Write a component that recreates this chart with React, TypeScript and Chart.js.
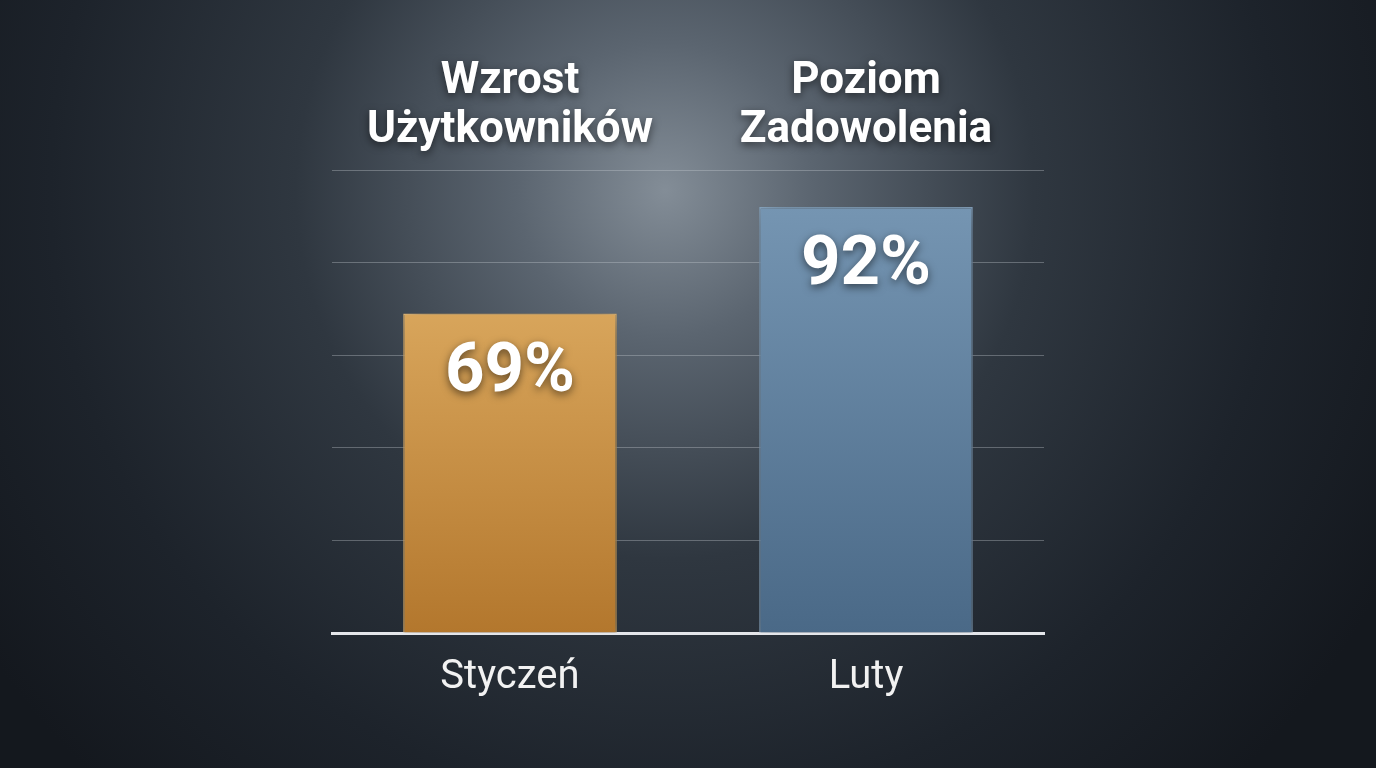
import { useEffect, useRef } from "react";
import { Chart, registerables, ChartConfiguration, Plugin } from "chart.js";

Chart.register(...registerables);

// chart data
const months = ["Styczeń", "Luty"];
const values = [69, 92];
const barTitles = [
  ["Wzrost", "Użytkowników"],
  ["Poziom", "Zadowolenia"],
];
const yTicks = [0, 20, 40, 60, 80, 100];

// colours for each bar: [top, bottom, border]
const barColors = [
  ["#d8a55b", "#b3772d", "#e2b877"],
  ["#7595b2", "#4a6987", "#8aa8c3"],
];

const FONT = "Roboto, 'Noto Sans', sans-serif";

// dark backdrop with a soft light above the chart
const backgroundPlugin: Plugin<"bar"> = {
  id: "backdrop",
  beforeDraw(chart) {
    const { ctx, width, height } = chart;
    ctx.save();
    ctx.fillStyle = "#161b22";
    ctx.fillRect(0, 0, width, height);
    const g = ctx.createRadialGradient(665, 190, 0, 665, 190, 820);
    g.addColorStop(0, "#838d97");
    g.addColorStop(0.18, "#5b6570");
    g.addColorStop(0.45, "#2f3740");
    g.addColorStop(0.75, "#1d232b");
    g.addColorStop(1, "#14181e");
    ctx.fillStyle = g;
    ctx.fillRect(0, 0, width, height);
    ctx.restore();
  },
};

// shadow under the bars
const barShadowPlugin: Plugin<"bar"> = {
  id: "barShadow",
  beforeDatasetDraw(chart) {
    const { ctx } = chart;
    ctx.save();
    ctx.shadowColor = "rgba(0,0,0,0.45)";
    ctx.shadowBlur = 22;
    ctx.shadowOffsetX = 4;
    ctx.shadowOffsetY = 4;
  },
  afterDatasetDraw(chart) {
    chart.ctx.restore();
  },
};

// titles above the chart and the values inside the bars
const labelsPlugin: Plugin<"bar"> = {
  id: "barLabels",
  afterDatasetsDraw(chart) {
    const { ctx } = chart;
    const meta = chart.getDatasetMeta(0);
    ctx.save();
    ctx.textAlign = "center";
    ctx.textBaseline = "middle";
    ctx.fillStyle = "#ffffff";
    ctx.shadowColor = "rgba(0,0,0,0.55)";
    ctx.shadowBlur = 8;
    ctx.shadowOffsetY = 3;
    meta.data.forEach((bar, i) => {
      const x = bar.x;
      ctx.font = `bold 44px ${FONT}`;
      barTitles[i].forEach((line, j) => {
        ctx.fillText(line, x, 82 + j * 49);
      });
      ctx.font = `bold 69px ${FONT}`;
      ctx.fillText(`${values[i]}%`, x, bar.y + 60);
    });
    ctx.restore();
  },
};

const App: React.FC = () => {
  const chartRef = useRef<HTMLCanvasElement | null>(null);

  useEffect(() => {
    document.body.style.margin = "0";
    if (!chartRef.current) return;
    const ctx = chartRef.current.getContext("2d");
    if (!ctx) return;

    const config: ChartConfiguration<"bar"> = {
      type: "bar",
      data: {
        labels: months,
        datasets: [
          {
            data: values,
            backgroundColor: (c) => {
              const chart = c.chart;
              const area = chart.chartArea;
              const cols = barColors[c.dataIndex % barColors.length];
              if (!area || !chart.scales.y) return cols[0];
              const top = chart.scales.y.getPixelForValue(values[c.dataIndex]);
              const g = chart.ctx.createLinearGradient(0, top, 0, area.bottom);
              g.addColorStop(0, cols[0]);
              g.addColorStop(1, cols[1]);
              return g;
            },
            borderColor: (c) => barColors[c.dataIndex % barColors.length][2],
            borderWidth: 1.5,
            borderSkipped: "bottom",
            barPercentage: 1,
            categoryPercentage: 0.6,
          },
        ],
      },
      options: {
        animation: false,
        responsive: true,
        maintainAspectRatio: false,
        layout: {
          padding: { left: 332, right: 332, top: 170, bottom: 45 },
        },
        plugins: {
          legend: { display: false },
          tooltip: { enabled: false },
        },
        scales: {
          x: {
            grid: { display: false, drawTicks: false },
            border: { display: true, color: "#e4e6ea", width: 3 },
            ticks: {
              color: "#f2f2f2",
              padding: 21,
              font: { family: FONT, size: 40 },
            },
          },
          y: {
            min: yTicks[0],
            max: yTicks[yTicks.length - 1],
            afterBuildTicks: (axis) => {
              axis.ticks = yTicks.map((v) => ({ value: v }));
            },
            grid: {
              color: "rgba(200,205,212,0.35)",
              lineWidth: 1,
              drawTicks: false,
            },
            border: { display: false },
            ticks: { display: false },
          },
        },
      },
      plugins: [backgroundPlugin, barShadowPlugin, labelsPlugin],
    };

    const chart = new Chart(ctx, config);
    return () => {
      chart.destroy();
    };
  }, []);

  return (
    <div style={{ position: "fixed", left: 0, top: 0, width: "1376px", height: "768px" }}>
      <canvas ref={chartRef}></canvas>
    </div>
  );
};

export default App;
